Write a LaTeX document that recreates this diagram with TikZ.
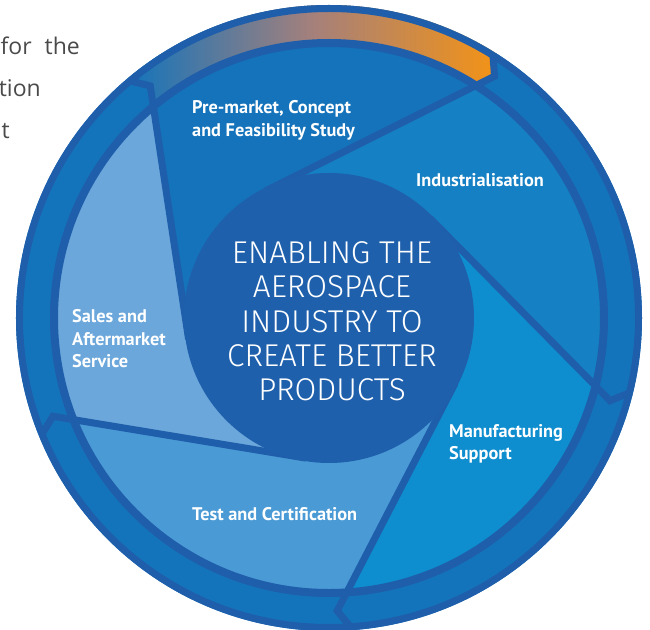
\documentclass[tikz,border=0pt]{standalone}
\usepackage{fontspec}
\setmainfont{PT Sans}
\newfontfamily\thinfont{Fira Sans}[UprightFont=* Light]
\newfontfamily\pagefont{Open Sans}

\definecolor{ringblue}{HTML}{1474BB}
\definecolor{edgeblue}{HTML}{1F5EAA}
\definecolor{coreblue}{HTML}{1F60AC}
\definecolor{premkt}{HTML}{1473BA}
\definecolor{indus}{HTML}{1580C3}
\definecolor{manuf}{HTML}{0E8ECF}
\definecolor{testcert}{HTML}{4A9AD5}
\definecolor{sales}{HTML}{6BA7DB}
\definecolor{bandmid}{HTML}{A5807B}
\definecolor{bandorange}{HTML}{F39316}
\definecolor{pagegrey}{HTML}{4A4A4A}

\begin{document}
\begin{tikzpicture}[x=1pt,y=1pt,
  sep/.style={draw=edgeblue,line width=7pt,line join=miter},
  stage/.style={text=white,font=\bfseries\fontsize{18.3}{22.5}\selectfont,align=left,inner sep=0pt,anchor=west},
  core/.style={text=white,font=\thinfont\fontsize{31.5}{34.3}\selectfont,align=center,inner sep=0pt},
  pagetext/.style={text=pagegrey,font=\pagefont\fontsize{23}{28}\selectfont,inner sep=0pt,anchor=base east}]

\useasboundingbox (-329,-311) rectangle (321,318);

% outer ring
\fill[ringblue] (0,0) circle[radius=313pt];

% top band, blue to orange
\shade[left color=ringblue,right color=bandorange,middle color=bandmid]
(57.7:313) arc[start angle=57.7,end angle=129.7,radius=313pt] -- (127.6:293) -- (129.7:275)
arc[start angle=129.7,end angle=57.7,radius=275pt] -- (55.6:293) -- cycle;

% blades
\foreach \a/\col in {0/premkt,1/sales,2/testcert,3/manuf,4/indus}{
  \pgfmathsetmacro\tc{57.7+72*\a}
  \fill[\col] (\tc+58.9:142) -- (\tc:275)
    arc[start angle=\tc,end angle=\tc+72,radius=275pt] -- (\tc+130.9:142) -- (0,0) -- cycle;
}

% separators
\foreach \a in {0,...,4}{
  \pgfmathsetmacro\tc{57.7+72*\a}
  \draw[sep] (\tc+58.9:142) -- (\tc-2.1:293) -- (\tc+0.5:311);
}

\draw[edgeblue,line width=8pt] (0,0) circle[radius=275pt];
\draw[edgeblue,line width=7pt] (0,0) circle[radius=309.5pt];

% centre
\fill[coreblue] (0,0) circle[radius=145pt];
\node[core] (core) at (3,-3.5) {ENABLING THE\\AEROSPACE\\INDUSTRY TO\\CREATE BETTER\\PRODUCTS};

\node[stage] (premarket) at (-137,197.5) {Pre-market, Concept\\and Feasibility Study};
\node[stage] (industrial) at (87,138) {Industrialisation};
\node[stage] (sales) at (-257,-21) {Sales and\\Aftermarket\\Service};
\node[stage] (manufacturing) at (120,-126) {Manufacturing\\Support};
\node[stage] (testing) at (-137,-196) {Test and Certification};

% page text cut at the left
\node[pagetext] (forthe) at (-249,263) {for\hspace{7pt} the};
\node[pagetext] (tion) at (-288,221) {tion};
\node[pagetext] (tail) at (-319,179) {t};

%\fill[red] (0,0) circle(2pt);
\end{tikzpicture}
\end{document}
